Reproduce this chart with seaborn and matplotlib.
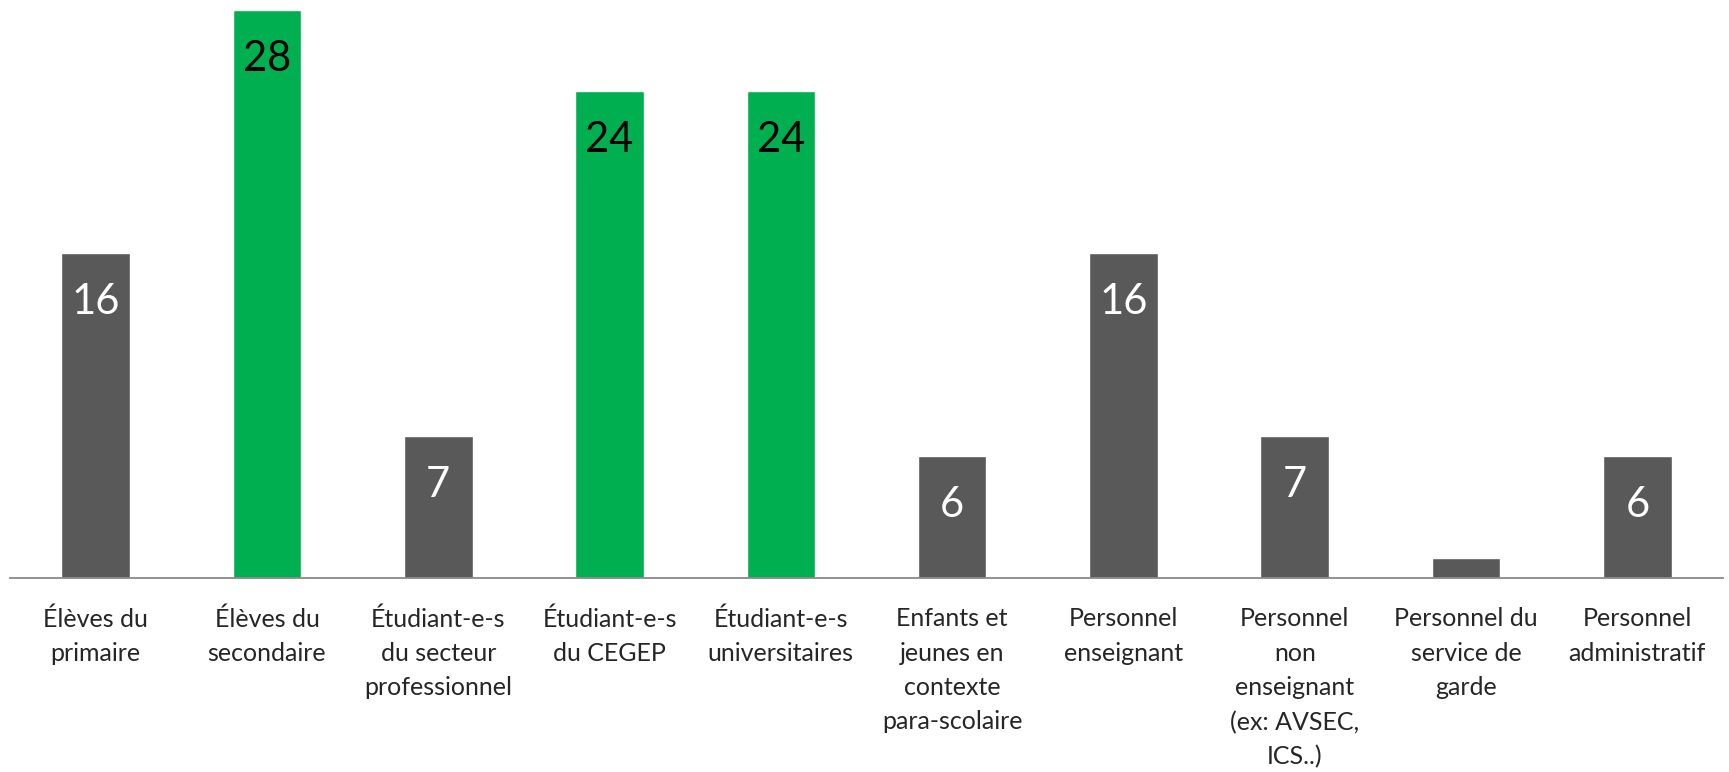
import matplotlib
matplotlib.use("Agg")
import matplotlib.pyplot as plt
import seaborn as sns
import pandas as pd
import numpy as np

categories = [
    "Élèves du\nprimaire",
    "Élèves du\nsecondaire",
    "Étudiant-e-s\ndu secteur\nprofessionnel",
    "Étudiant-e-s\ndu CEGEP",
    "Étudiant-e-s\nuniversitaires",
    "Enfants et\njeunes en\ncontexte\npara-scolaire",
    "Personnel\nenseignant",
    "Personnel\nnon\nenseignant\n(ex: AVSEC,\nICS..)",
    "Personnel du\nservice de\ngarde",
    "Personnel\nadministratif",
]
values = [16, 28, 7, 24, 24, 6, 16, 7, 1, 6]
highlight = [False, True, False, True, True, False, False, False, False, False]
shown_labels = ["16", "28", "7", "24", "24", "6", "16", "7", "", "6"]

GRAY = "#595959"
GREEN = "#00B050"

df = pd.DataFrame({"cat": categories, "val": values,
                   "grp": ["hi" if h else "lo" for h in highlight]})

sns.set_style("white")
plt.rcParams["font.family"] = ["Lato", "DejaVu Sans"]

fig = plt.figure(figsize=(17.29, 7.72), dpi=100)
ax = fig.add_axes([10 / 1729, 1 - 578 / 772, 1713 / 1729, 568 / 772])

sns.barplot(data=df, x="cat", y="val", hue="grp", order=categories,
            palette={"hi": GREEN, "lo": GRAY}, width=0.4, dodge=False,
            legend=False, saturation=1, ax=ax)

# value labels inside the bars (the tiny bar has none)
for i, (v, lab, h) in enumerate(zip(values, shown_labels, highlight)):
    if not lab:
        continue
    ax.annotate(lab, (i, v), xytext=(0, -35), textcoords="offset points",
                ha="center", va="center", fontsize=30,
                color="black" if h else "white")

ax.set_xlim(-0.5, len(categories) - 0.5)
ax.set_ylim(0, 28)
ax.set_xlabel("")
ax.set_ylabel("")
ax.set_yticks([])
for s in ["top", "right", "left"]:
    ax.spines[s].set_visible(False)
ax.spines["bottom"].set_color("#898989")
ax.spines["bottom"].set_linewidth(1.3)

ax.set_xticks(np.arange(-0.5, len(categories)), minor=True)
ax.tick_params(axis="x", which="minor", length=10, width=1.3, color="#898989",
               direction="out")
ax.tick_params(axis="x", which="major", length=0, pad=21)
ax.set_xticks(range(len(categories)))
ax.set_xticklabels(categories, fontsize=18, linespacing=1.6, va="top")

fig.savefig("out.png", dpi=100)
